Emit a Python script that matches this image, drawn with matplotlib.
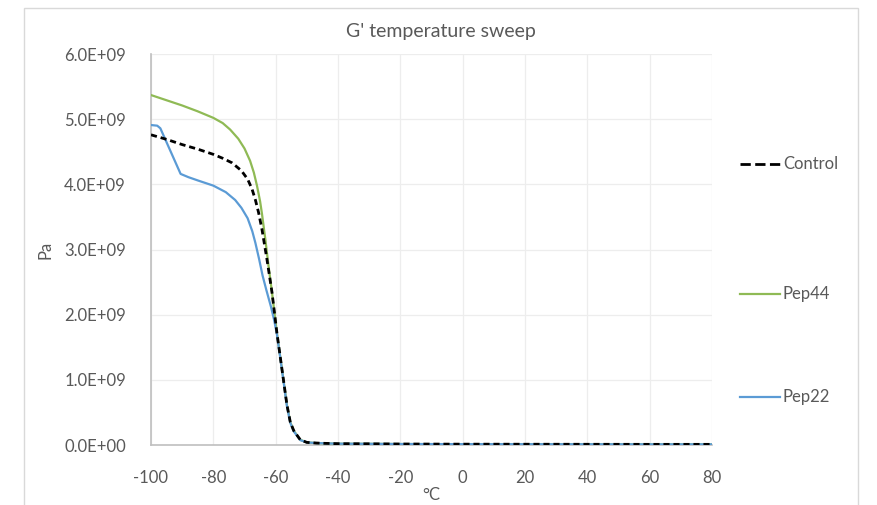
import numpy as np
import matplotlib
matplotlib.use("Agg")
import matplotlib.pyplot as plt
from matplotlib.lines import Line2D
from matplotlib.patches import Rectangle

#### data (values in units of 1e9 Pa) ####
temp_control = [-100, -95, -90, -85, -80, -77, -74, -71, -69, -67.6, -66.5, -65.5,
                -64.4, -62.8, -61.2, -59.6, -58, -56.4, -55.3, -54.2, -52.1, -50,
                -47, -44, -40, -30, -20, 0, 20, 40, 60, 80]
g_control = [4.76, 4.69, 4.61, 4.54, 4.46, 4.40, 4.33, 4.21, 4.08, 3.93, 3.76, 3.57,
             3.31, 2.85, 2.35, 1.72, 1.17, 0.62, 0.35, 0.22, 0.08, 0.04,
             0.03, 0.025, 0.02, 0.018, 0.015, 0.013, 0.012, 0.011, 0.01, 0.01]

temp_pep44 = [-100, -95, -90, -85, -80, -77, -74.6, -72, -70, -68.2, -67, -66, -65,
              -64.4, -63.3, -62.3, -61.2, -59.6, -58, -56.4, -55.3, -54.2, -52.1,
              -50, -47, -44, -40, -30, -20, 0, 20, 40, 60, 80]
g_pep44 = [5.37, 5.29, 5.21, 5.12, 5.02, 4.94, 4.84, 4.70, 4.55, 4.36, 4.18, 3.98, 3.74,
           3.55, 3.15, 2.75, 2.35, 1.72, 1.17, 0.62, 0.35, 0.22, 0.08,
           0.04, 0.03, 0.025, 0.02, 0.018, 0.015, 0.013, 0.012, 0.011, 0.01, 0.01]

temp_pep22 = [-100, -98, -97, -90.5, -88, -85, -80, -76, -73, -71, -69, -67.5, -66.5,
              -65.3, -64.2, -63, -61.5, -60.5, -59.6, -58, -56.4, -55.3, -54.2, -52.1,
              -50, -47, -44, -40, -30, -20, 0, 20, 40, 60, 80]
g_pep22 = [4.91, 4.90, 4.86, 4.16, 4.11, 4.06, 3.98, 3.88, 3.76, 3.64, 3.48, 3.28, 3.10,
           2.85, 2.60, 2.38, 2.12, 1.92, 1.70, 1.16, 0.60, 0.34, 0.21, 0.075,
           0.04, 0.03, 0.025, 0.02, 0.018, 0.015, 0.013, 0.012, 0.011, 0.01, 0.01]

x_ticks = [-100, -80, -60, -40, -20, 0, 20, 40, 60, 80]
y_ticks = [0, 1e9, 2e9, 3e9, 4e9, 5e9, 6e9]
y_tick_labels = ["0.0E+00", "1.0E+09", "2.0E+09", "3.0E+09", "4.0E+09", "5.0E+09", "6.0E+09"]
series_names = ["Control", "Pep44", "Pep22"]

#### style ####
plt.rcParams['font.family'] = ['Lato', 'DejaVu Sans']
text_grey = '#595959'
green = '#8fba55'
blue = '#5b9bd5'

W, H = 877, 505
fig = plt.figure(figsize=(W / 100, H / 100), dpi=100)

# chart area border
fig.add_artist(Rectangle((24 / W, -0.01), (858 - 24) / W, 1 - 8 / H + 0.01,
                         transform=fig.transFigure, fill=False,
                         edgecolor='#d9d9d9', linewidth=1))

ax = fig.add_axes([151 / W, 1 - 445 / H, (712 - 151) / W, (445 - 54) / H])

scale = 1e9
l_ctrl, = ax.plot(temp_control, np.array(g_control) * scale, color='black',
                  linewidth=2, linestyle=(0, (2.2, 1.4)), zorder=4)
l_44, = ax.plot(temp_pep44, np.array(g_pep44) * scale, color=green, linewidth=1.6, zorder=3)
l_22, = ax.plot(temp_pep22, np.array(g_pep22) * scale, color=blue, linewidth=1.6, zorder=3)

ax.set_xlim(-100, 80)
ax.set_ylim(0, 6e9)
ax.set_xticks(x_ticks)
ax.set_xticklabels([str(t) for t in x_ticks])
ax.set_yticks(y_ticks)
ax.set_yticklabels(y_tick_labels)
ax.tick_params(axis='both', length=0, labelsize=12, colors=text_grey)
ax.tick_params(axis='x', pad=18)
ax.tick_params(axis='y', pad=18)

ax.grid(True, color='#ededed', linewidth=0.9)
ax.set_axisbelow(True)
for side in ['top', 'right']:
    ax.spines[side].set_visible(False)
for side in ['left', 'bottom']:
    ax.spines[side].set_color('#bfbfbf')
    ax.spines[side].set_linewidth(1.2)

ax.set_xlabel('°C', fontsize=12, color=text_grey, labelpad=1)
ax.set_ylabel('Pa', fontsize=12, color=text_grey, labelpad=8)
fig.text(441 / W, 1 - 32 / H, "G' temperature sweep", ha='center', va='center',
         fontsize=14, color=text_grey)

# legend entries spread down the right side like the original
legend_rows = [164, 294, 397]
for name, line, py in zip(series_names, [l_ctrl, l_44, l_22], legend_rows):
    yf = 1 - py / H
    fig.add_artist(Line2D([740 / W, 780 / W], [yf, yf], transform=fig.transFigure,
                          color=line.get_color(), linewidth=line.get_linewidth(),
                          linestyle=line.get_linestyle()))
    fig.text(783 / W, yf, name, ha='left', va='center', fontsize=12, color=text_grey)

fig.savefig('out.png', dpi=100)
